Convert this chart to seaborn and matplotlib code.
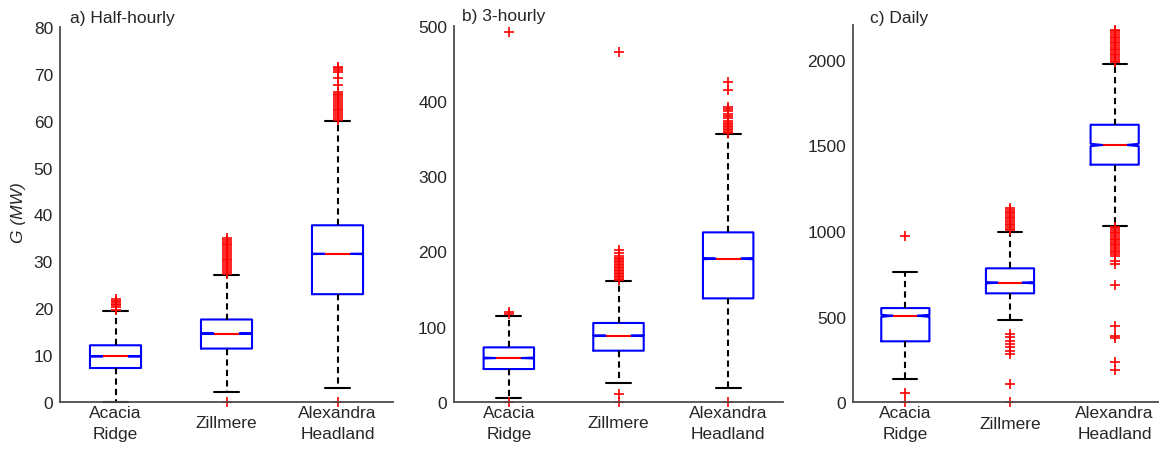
import matplotlib
matplotlib.use("Agg")
import matplotlib.pyplot as plt
import seaborn as sns

# ---------------- data ----------------
sites = ["Acacia\nRidge", "Zillmere", "Alexandra\nHeadland"]
panel_titles = ["a) Half-hourly", "b) 3-hourly", "c) Daily"]

# a) Half-hourly  (MW)
hh_q1 = [7.25, 11.4, 23.0]
hh_med = [9.75, 14.6, 31.6]
hh_q3 = [12.1, 17.6, 37.7]
hh_lo = [0.0, 2.1, 3.0]
hh_hi = [19.4, 27.1, 59.9]
hh_ci = [0.04, 0.04, 0.06]
hh_out_acacia = [19.7, 20.3, 20.7, 21.0, 21.3, 21.6, 21.9]
hh_out_zillmere = [0.0, 27.4, 27.8, 28.2, 28.6, 29.0, 29.4, 29.8, 30.2, 30.6, 31.0,
                   31.4, 31.8, 32.2, 32.6, 33.0, 33.4, 33.8, 34.2, 34.6, 34.9]
hh_out_alexandra = [0.0, 60.2, 60.6, 61.0, 61.4, 61.8, 62.2, 62.6, 63.0, 63.4, 63.8,
                    64.2, 64.6, 65.0, 65.4, 65.8, 66.2, 67.6, 69.2, 70.4, 70.8, 71.2, 71.5]

# b) 3-hourly  (MW)
h3_q1 = [43.8, 68.2, 137.7]
h3_med = [58.4, 88.1, 190.5]
h3_q3 = [72.6, 105.0, 225.4]
h3_lo = [5.3, 24.8, 18.2]
h3_hi = [114.7, 160.3, 355.6]
h3_ci = [0.6, 0.6, 0.9]
h3_out_acacia = [0.0, 117.5, 120.0, 491.0]
h3_out_zillmere = [0.0, 11.0, 162, 164, 166, 168, 170, 172, 174, 176, 178, 180, 182,
                   184, 186, 188, 190, 192, 194, 198, 202, 465]
h3_out_alexandra = [0.0, 357, 359, 361, 363, 365, 367, 369, 371, 374, 377, 380, 383,
                    386, 389, 392, 415, 425]

# c) Daily  (MW)
dy_q1 = [356, 636, 1387]
dy_med = [505, 698, 1502]
dy_q3 = [550, 782, 1620]
dy_lo = [136, 482, 1031]
dy_hi = [762, 996, 1975]
dy_ci = [6, 4, 7]
dy_out_acacia = [0, 52, 970]
dy_out_zillmere = [0, 107, 282, 302, 321, 341, 360, 380, 399, 1003, 1013, 1023, 1033,
                   1043, 1053, 1063, 1073, 1083, 1093, 1103, 1113, 1123, 1135]
dy_out_alexandra = [188, 233, 374, 385, 447, 686, 807, 827, 856, 866, 876, 886, 896,
                    906, 916, 926, 936, 946, 956, 966, 976, 986, 996, 1006, 1016, 1026,
                    1985, 1995, 2005, 2015, 2025, 2035, 2045, 2055, 2065, 2075, 2085,
                    2095, 2105, 2115, 2125, 2135, 2145, 2155, 2165, 2175]

hh_yticks = [0, 10, 20, 30, 40, 50, 60, 70, 80]
h3_yticks = [0, 100, 200, 300, 400, 500]
dy_yticks = [0, 500, 1000, 1500, 2000]

# ---------------- style ----------------
sns.set_style("white")
plt.rcParams['font.family'] = ['Liberation Sans', 'DejaVu Sans']
TXT = '#262626'
AX = '#4d4d4d'
FS = 12.5

W, H = 1159, 452
fig = plt.figure(figsize=(W / 100, H / 100), dpi=100)


def pos(l, r, t, b):
    return [l / W, 1 - b / H, (r - l) / W, (b - t) / H]


def make_stats(q1, med, q3, lo, hi, ci, outs):
    stats = []
    for i in range(3):
        stats.append(dict(q1=q1[i], med=med[i], q3=q3[i], whislo=lo[i], whishi=hi[i],
                          cilo=med[i] - ci[i], cihi=med[i] + ci[i], fliers=outs[i]))
    return stats


def draw(ax, stats, ylim, yticks):
    bp = ax.bxp(stats, positions=[1, 2, 3], widths=0.46, shownotches=True,
                showfliers=True, manage_ticks=False,
                boxprops=dict(color='#0000FF', lw=1.5),
                whiskerprops=dict(color='black', lw=1.5, linestyle=(0, (3, 2))),
                capprops=dict(color='black', lw=1.5),
                medianprops=dict(color='#FF0000', lw=1.5),
                flierprops=dict(marker='+', markeredgecolor='#FF0000', markersize=6.5,
                                markeredgewidth=1.2, linestyle='none'))
    for f in bp['fliers']:
        f.set_clip_on(False)
    for c in bp['caps']:
        c.set_clip_on(False)
    ax.set_xlim(0.5, 3.5)
    ax.set_ylim(*ylim)
    ax.set_yticks(yticks)
    ax.set_xticks([1, 2, 3])
    ax.set_xticklabels(sites, linespacing=1.45)
    for lab in ax.get_xticklabels():
        lab.set_va('center')
    for s in ['top', 'right']:
        ax.spines[s].set_visible(False)
    for s in ['left', 'bottom']:
        ax.spines[s].set_color(AX)
        ax.spines[s].set_linewidth(1.3)
    ax.tick_params(axis='both', direction='in', length=4, width=1.0, color=AX,
                   labelsize=FS, labelcolor=TXT)
    ax.tick_params(axis='x', pad=15)
    ax.tick_params(axis='y', pad=5)
    ax.set_facecolor('white')


ax1 = fig.add_axes(pos(60, 393, 28, 403))
draw(ax1, make_stats(hh_q1, hh_med, hh_q3, hh_lo, hh_hi, hh_ci,
                     [hh_out_acacia, hh_out_zillmere, hh_out_alexandra]),
     (0, 80), hh_yticks)

ax2 = fig.add_axes(pos(454, 783, 26.7, 403))
draw(ax2, make_stats(h3_q1, h3_med, h3_q3, h3_lo, h3_hi, h3_ci,
                     [h3_out_acacia, h3_out_zillmere, h3_out_alexandra]),
     (0, 500), h3_yticks)

ax3 = fig.add_axes(pos(853, 1167, 26.4, 403.3))
draw(ax3, make_stats(dy_q1, dy_med, dy_q3, dy_lo, dy_hi, dy_ci,
                     [dy_out_acacia, dy_out_zillmere, dy_out_alexandra]),
     (0, 2200), dy_yticks)

fig.text(70 / W, 1 - 22.7 / H, panel_titles[0], fontsize=FS, color=TXT, va='baseline', ha='left')
fig.text(462 / W, 1 - 20.7 / H, panel_titles[1], fontsize=FS, color=TXT, va='baseline', ha='left')
fig.text(870 / W, 1 - 22.7 / H, panel_titles[2], fontsize=FS, color=TXT, va='baseline', ha='left')
fig.text(19 / W, 1 - 213 / H, "G (MW)", fontsize=FS, color=TXT, rotation=90,
         va='center', ha='center', style='italic')

fig.savefig("out.png", dpi=100)
